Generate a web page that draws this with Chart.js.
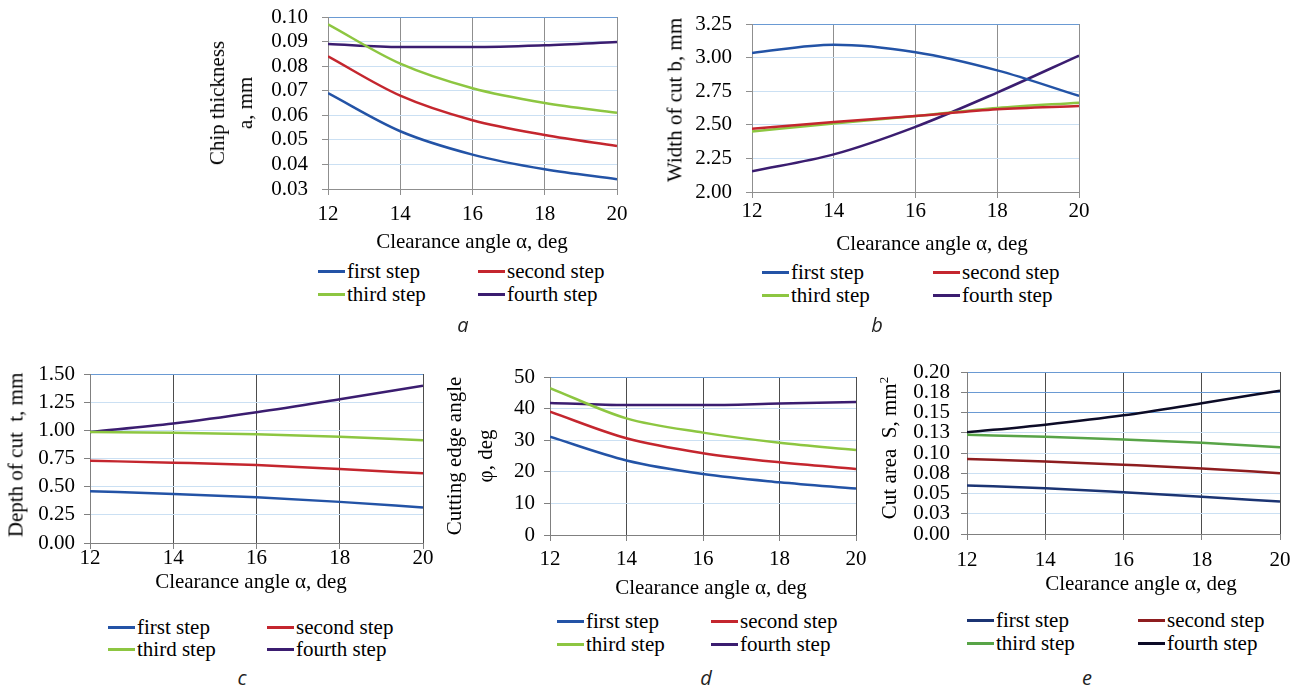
<!DOCTYPE html>
<html><head><meta charset="utf-8">
<script src="https://cdn.jsdelivr.net/npm/chart.js@4.4.0/dist/chart.umd.min.js"></script>
<style>
html,body{margin:0;padding:0;background:#fff;}
body{width:1303px;height:687px;overflow:hidden;position:relative;font-family:"Liberation Serif","Times New Roman",Times,serif;}
canvas{position:absolute;}
.t{position:absolute;white-space:nowrap;color:#000;font-family:"Liberation Serif","Times New Roman",Times,serif;font-size:21px;line-height:1;transform:translate(-50%,-50%);}
.rot{transform:translate(-50%,-50%) rotate(-90deg);text-align:center;}
.sub{position:absolute;font-family:"Open Sans",sans-serif;font-style:italic;font-size:20px;color:#222;transform:translate(-50%,-50%);}
.lg{position:absolute;white-space:nowrap;color:#000;transform:translateY(-50%);height:24px;}
.lg i{position:absolute;left:0;top:11px;width:27px;height:3px;}
.lg span{position:absolute;left:29px;top:0;line-height:24px;font-family:"Liberation Serif","Times New Roman",Times,serif;font-size:21px;white-space:nowrap;}
</style>
</head><body>
<script>
// ---------- data ----------
const alpha = [12, 14, 16, 18, 20];
const seriesNames = ["first step", "second step", "third step", "fourth step"];

// a: chip thickness a, mm
const aFirst  = [0.069, 0.0535, 0.044, 0.038, 0.034];
const aSecond = [0.084, 0.068, 0.058, 0.052, 0.0475];
const aThird  = [0.097, 0.081, 0.071, 0.065, 0.061];
const aFourth = [0.089, 0.0878, 0.0878, 0.0885, 0.0898];

// b: width of cut b, mm
const bFirst  = [3.035, 3.095, 3.04, 2.905, 2.715];
const bSecond = [2.47, 2.52, 2.565, 2.615, 2.64];
const bThird  = [2.45, 2.51, 2.565, 2.625, 2.665];
const bFourth = [2.155, 2.28, 2.485, 2.74, 3.015];

// c: depth of cut t, mm
const cFirst  = [0.46, 0.435, 0.405, 0.365, 0.315];
const cSecond = [0.73, 0.713, 0.692, 0.657, 0.618];
const cThird  = [0.985, 0.978, 0.965, 0.943, 0.912];
const cFourth = [0.985, 1.06, 1.16, 1.275, 1.395];

// d: cutting edge angle phi, deg
const dFirst  = [31.1, 23.6, 19.3, 16.7, 14.7];
const dSecond = [39.0, 30.6, 25.9, 23.0, 20.9];
const dThird  = [46.5, 36.9, 32.4, 29.2, 26.9];
const dFourth = [41.8, 41.1, 41.1, 41.6, 42.1];

// e: cut area S, mm2
const eFirst  = [0.060, 0.0565, 0.0515, 0.046, 0.040];
const eSecond = [0.0925, 0.0895, 0.0855, 0.081, 0.075];
const eThird  = [0.1225, 0.120, 0.1167, 0.1126, 0.107];
const eFourth = [0.1255, 0.135, 0.1465, 0.1615, 0.177];

const eTickLabels = ["0.00", "0.03", "0.05", "0.08", "0.10", "0.13", "0.15", "0.18", "0.20"];

const colorsStd = ["#2353a6", "#c4262e", "#8dc641", "#3b1d70"];
const colorsE   = ["#1b3473", "#8e1d1f", "#58a447", "#0c0b26"];

// ---------- helpers ----------
const FAMILY = '"Liberation Serif", "Times New Roman", Times, serif';
const WY = 100, PADT = 44, PADR = 44, HX = 50;
function el(cls, html, x, y, extra) {
  const d = document.createElement("div");
  d.className = cls; d.innerHTML = html;
  d.style.left = x + "px"; d.style.top = y + "px";
  if (extra) Object.assign(d.style, extra);
  document.body.appendChild(d);
  return d;
}

function panel(p) {
  const cv = document.createElement("canvas");
  const w = WY + p.plotW + PADR, h = PADT + p.plotH + HX;
  cv.width = w; cv.height = h;
  cv.style.left = (p.left - WY) + "px"; cv.style.top = (p.top - PADT) + "px";
  cv.style.width = w + "px"; cv.style.height = h + "px";
  document.body.appendChild(cv);
  const font = {family: FAMILY, size: p.fs};
  const datasets = p.series.map((arr, i) => ({
    label: seriesNames[i],
    data: alpha.map((a, k) => ({x: a, y: arr[k]})),
    borderColor: p.colors[i],
    backgroundColor: p.colors[i],
    borderWidth: 2.5,
    pointRadius: 0,
    cubicInterpolationMode: "monotone",
    fill: false
  }));
  new Chart(cv, {
    type: "line",
    data: {datasets},
    options: {
      responsive: false, animation: false, devicePixelRatio: 1,
      layout: {padding: {top: PADT, right: PADR, left: 0, bottom: 0}},
      plugins: {legend: {display: false}, tooltip: {enabled: false}},
      scales: {
        x: {
          type: "linear", min: 12, max: 20,
          ticks: {stepSize: 2, font, color: "#000", padding: p.xPad, maxRotation: 0, autoSkip: false},
          grid: {color: p.vGrid, tickColor: p.axisColor, tickLength: 6, lineWidth: 1},
          border: {color: p.axisColor, width: 1},
          afterFit: s => { s.height = HX; }
        },
        y: {
          min: p.yMin, max: p.yMax,
          ticks: {stepSize: p.yStep, font, color: "#000", padding: p.yPad, autoSkip: false,
            callback: p.tickCb},
          grid: {
            color: ctx => (ctx.index >= p.nTicks - p.darkTop ? "#6a9ad3" : "#cbe0f3"),
            tickColor: p.axisColor, tickLength: 6, lineWidth: 1
          },
          border: {color: p.axisColor, width: 1},
          afterFit: s => { s.width = WY; }
        }
      }
    }
  });
  p.legendCols.forEach((cx, ci) => {
    p.legendRows.forEach((ry, ri) => {
      const idx = ri * 2 + ci;
      el("lg", '<i style="background:' + p.colors[idx] + '"></i><span>' + seriesNames[idx] + '</span>', cx, ry);
    });
  });
}

// ---------- panels ----------
panel({left: 328, top: 17, plotW: 289, plotH: 172, yMin: 0.03, yMax: 0.10, yStep: 0.01, nTicks: 8, darkTop: 1,
  tickCb: v => v.toFixed(2), fs: 21, xPad: 7, yPad: 14,
  series: [aFirst, aSecond, aThird, aFourth], colors: colorsStd, vGrid: "#8f8f8f", axisColor: "#8f8f8f",
  legendCols: [318, 478], legendRows: [271, 294]});

panel({left: 752, top: 24, plotW: 327, plotH: 168, yMin: 2.0, yMax: 3.25, yStep: 0.25, nTicks: 6, darkTop: 1,
  tickCb: v => v.toFixed(2), fs: 21, xPad: 1, yPad: 14,
  series: [bFirst, bSecond, bThird, bFourth], colors: colorsStd, vGrid: "#8f8f8f", axisColor: "#8f8f8f",
  legendCols: [762, 933], legendRows: [272, 295]});

panel({left: 90, top: 374, plotW: 333, plotH: 169, yMin: 0, yMax: 1.5, yStep: 0.25, nTicks: 7, darkTop: 1,
  tickCb: v => v.toFixed(2), fs: 21, xPad: -3, yPad: 9,
  series: [cFirst, cSecond, cThird, cFourth], colors: colorsStd, vGrid: "#4d4d4d", axisColor: "#808080",
  legendCols: [108, 267], legendRows: [627, 649]});

panel({left: 550, top: 377, plotW: 306, plotH: 158, yMin: 0, yMax: 50, yStep: 10, nTicks: 6, darkTop: 1,
  tickCb: v => String(v), fs: 21, xPad: 6, yPad: 9,
  series: [dFirst, dSecond, dThird, dFourth], colors: colorsStd, vGrid: "#4d4d4d", axisColor: "#808080",
  legendCols: [557, 711], legendRows: [621, 644]});

panel({left: 967, top: 372, plotW: 313, plotH: 162, yMin: 0, yMax: 0.2, yStep: 0.025, nTicks: 9, darkTop: 3,
  tickCb: (v, i) => eTickLabels[i], fs: 21, xPad: 8, yPad: 11,
  series: [eFirst, eSecond, eThird, eFourth], colors: colorsE, vGrid: "#4d4d4d", axisColor: "#808080",
  legendCols: [967, 1138], legendRows: [620, 643]});

// ---------- axis titles ----------
el("t rot", "Chip thickness<br>a, mm", 231, 103, {lineHeight: "28px"});
el("t", "Clearance angle α, deg", 472, 241);
el("t rot", "Width of cut b, mm", 675, 100);
el("t", "Clearance angle α, deg", 932, 243);
el("t rot", "Depth of cut&nbsp; t, mm", 16, 455);
el("t", "Clearance angle α, deg", 251, 581);
el("t rot", "Cutting edge angle<br>φ, deg", 470, 456, {lineHeight: "31px"});
el("t", "Clearance angle α, deg", 711, 587);
el("t rot", "Cut area&nbsp; S, mm<sup style='font-size:13px'>2</sup>", 888, 448);
el("t", "Clearance angle α, deg", 1141, 583);

// ---------- panel letters ----------
el("sub", "a", 463, 324); el("sub", "b", 877, 324);
el("sub", "c", 242, 677); el("sub", "d", 706, 677); el("sub", "e", 1087, 677);
</script>
</body></html>
